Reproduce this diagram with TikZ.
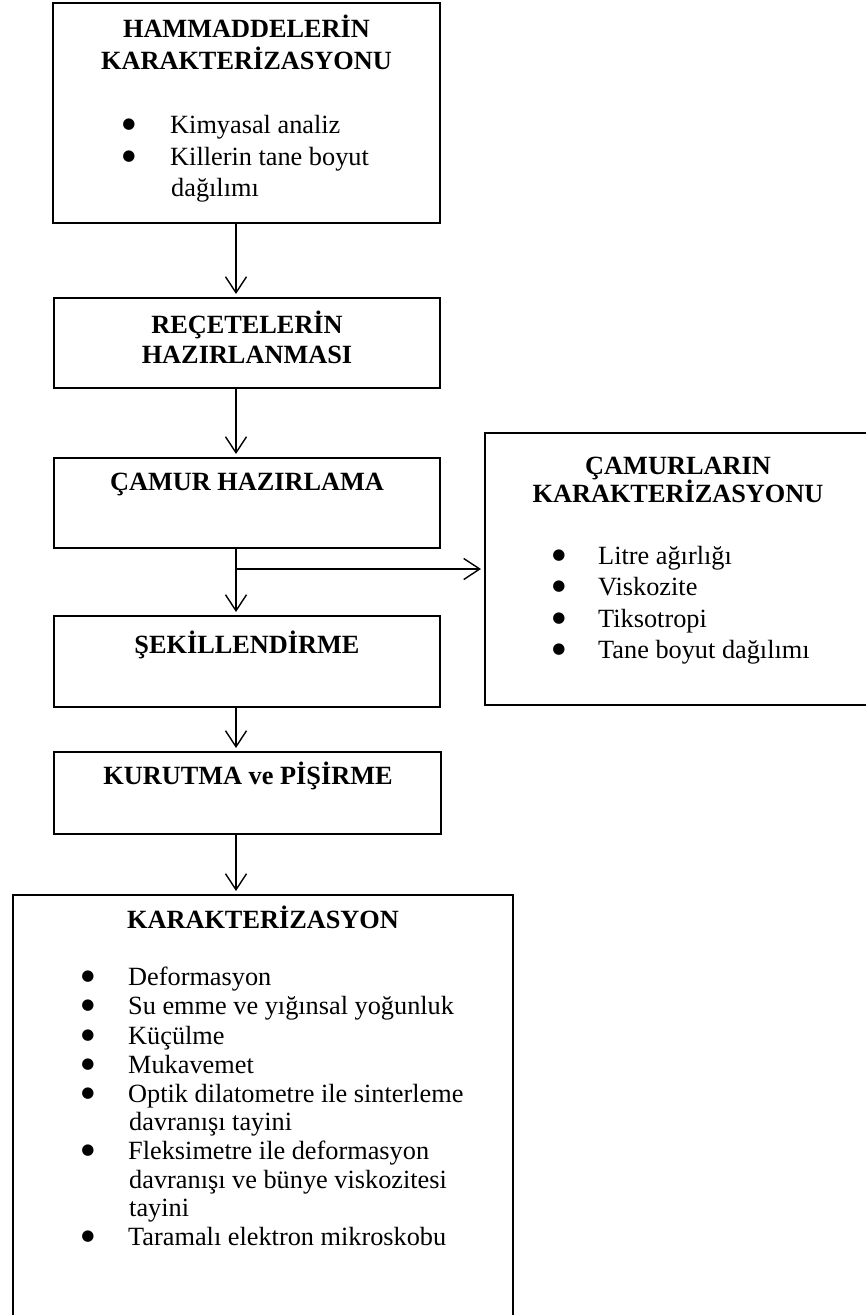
\documentclass[tikz,border=0pt]{standalone}
\usepackage{fontspec}
\setmainfont{Liberation Serif}
\newfontfamily\symfont{DejaVu Sans}
\usetikzlibrary{arrows.meta}
\newcommand{\mainsize}{\fontsize{26.3}{31.5}\selectfont}
\tikzset{
  box/.style={draw, line width=1.8pt, anchor=north west, inner sep=0pt, outer sep=0pt},
  ttl/.style={font=\mainsize\bfseries, anchor=base, inner sep=0pt},
  itm/.style={font=\mainsize, anchor=base west, inner sep=0pt},
  bul/.style={font=\symfont\fontsize{15}{17}\selectfont, anchor=center, inner sep=0pt},
  arr/.style={line width=1.4pt, -{Straight Barb[length=16pt,width=21pt,line width=1.4pt]}, shorten >=4pt}
}
\newcommand{\bigbul}{●}
\begin{document}
\begin{tikzpicture}[x=1pt,y=-1pt]
\useasboundingbox (0,0) rectangle (866,1315);
\clip (0,0) rectangle (866,1315);
% boxes
\node[box, minimum width=387pt, minimum height=220pt] (b1) at (53,3) {};
\node[box, minimum width=386pt, minimum height=90pt] (b2) at (54,298) {};
\node[box, minimum width=386pt, minimum height=90pt] (b3) at (54,458) {};
\node[box, minimum width=386pt, minimum height=91pt] (b4) at (54,616) {};
\node[box, minimum width=387pt, minimum height=82pt] (b5) at (54,752) {};
\node[box, minimum width=500pt, minimum height=440pt] (b6) at (13,895) {};
\node[box, minimum width=386pt, minimum height=272pt] (b7) at (485,433) {};
% box 1 text
\node[ttl] (t1a) at (246.5,37) {HAMMADDELERİN};
\node[ttl] (t1b) at (246.5,69) {KARAKTERİZASYONU};
\node[bul] (p1a) at (129,125) {\bigbul};
\node[itm] (i1a) at (170,133) {Kimyasal analiz};
\node[bul] (p1b) at (129,157) {\bigbul};
\node[itm] (i1b) at (170,165) {Killerin tane boyut};
\node[itm] (i1c) at (171,196) {dağılımı};
% box 2-5 titles
\node[ttl] (t2a) at (247,333) {REÇETELERİN};
\node[ttl] (t2b) at (247,363) {HAZIRLANMASI};
\node[ttl] (t3) at (247,490) {ÇAMUR HAZIRLAMA};
\node[ttl] (t4) at (247,653) {ŞEKİLLENDİRME};
\node[ttl] (t5) at (248,784) {KURUTMA ve PİŞİRME};
% box 7 text
\node[ttl] (t7a) at (678,474) {ÇAMURLARIN};
\node[ttl] (t7b) at (678,502) {KARAKTERİZASYONU};
\node[bul] (p7a) at (559,556) {\bigbul};
\node[itm] (i7a) at (598,564) {Litre ağırlığı};
\node[bul] (p7b) at (559,587) {\bigbul};
\node[itm] (i7b) at (598,595) {Viskozite};
\node[bul] (p7c) at (559,619) {\bigbul};
\node[itm] (i7c) at (598,627) {Tiksotropi};
\node[bul] (p7d) at (559,650) {\bigbul};
\node[itm] (i7d) at (598,658) {Tane boyut dağılımı};
% box 6 text
\node[ttl] (t6) at (263,928) {KARAKTERİZASYON};
\node[bul] (p6a) at (88,977) {\bigbul};
\node[itm] (i6a) at (128,985) {Deformasyon};
\node[bul] (p6b) at (88,1006) {\bigbul};
\node[itm] (i6b) at (128,1014) {Su emme ve yığınsal yoğunluk};
\node[bul] (p6c) at (88,1036) {\bigbul};
\node[itm] (i6c) at (128,1044) {Küçülme};
\node[bul] (p6d) at (88,1065) {\bigbul};
\node[itm] (i6d) at (128,1073) {Mukavemet};
\node[bul] (p6e) at (88,1094) {\bigbul};
\node[itm] (i6e) at (128,1102) {Optik dilatometre ile sinterleme};
\node[itm] (i6f) at (129,1130) {davranışı tayini};
\node[bul] (p6g) at (88,1151) {\bigbul};
\node[itm] (i6g) at (128,1159) {Fleksimetre ile deformasyon};
\node[itm] (i6h) at (129,1188) {davranışı ve bünye viskozitesi};
\node[itm] (i6i) at (129,1216) {tayini};
\node[bul] (p6j) at (88,1237) {\bigbul};
\node[itm] (i6j) at (128,1245) {Taramalı elektron mikroskobu};
% connectors
\coordinate (xa) at (236,0);
\coordinate (br) at (236,569);
\draw[arr] (b1.south -| xa) -- (b2.north -| xa);
\draw[arr] (b2.south -| xa) -- (b3.north -| xa);
\draw[arr] (b3.south -| xa) -- (b4.north -| xa);
\draw[arr] (br) -- (br -| b7.west);
\draw[arr] (b4.south -| xa) -- (b5.north -| xa);
\draw[arr] (b5.south -| xa) -- (b6.north -| xa);
\end{tikzpicture}
\end{document}
